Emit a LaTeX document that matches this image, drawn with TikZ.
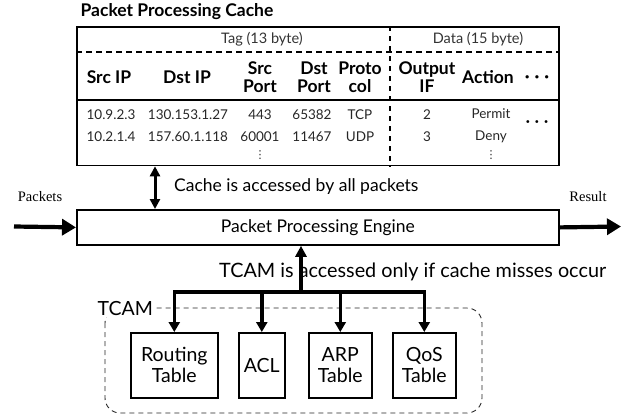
\documentclass[tikz,border=0pt]{standalone}
\usepackage{fontspec}
\setmainfont{Lato}
\newfontfamily\labelserif{Liberation Serif}
\newfontfamily\glyphfont{DejaVu Sans}
\usetikzlibrary{arrows.meta}

\begin{document}
\begin{tikzpicture}[x=1pt,y=-1pt,
  frame/.style={draw, line width=1.8pt, inner sep=0pt},
  unit/.style={draw, line width=1.6pt, inner sep=0pt, align=center,
    font=\fontsize{19.5}{21}\selectfont},
  headtxt/.style={inner sep=0pt, align=center,
    font=\fontsize{17.5}{18.5}\selectfont\bfseries},
  celltxt/.style={inner sep=0pt, anchor=base, text=black!85,
    font=\fontsize{13.5}{15}\selectfont},
  grptxt/.style={inner sep=0pt, anchor=base, text=black!80,
    font=\fontsize{14.5}{16}\selectfont},
  moretxt/.style={inner sep=0pt, text=black!85, font=\glyphfont\fontsize{11}{12}\selectfont},
  sidetxt/.style={inner sep=0pt, anchor=base,
    font=\labelserif\fontsize{14.5}{16}\selectfont},
  fatarrow/.style={line width=4.2pt, -{Triangle[length=14pt,width=16pt]}},
  duplex/.style={line width=3pt, {Triangle[length=10pt,width=10pt]}-{Triangle[length=10pt,width=10pt]}},
  busline/.style={line width=3.5pt, line cap=rect},
  dropline/.style={line width=3.5pt, -{Triangle[length=10pt,width=11pt]}},
  uplink/.style={line width=3.5pt, -{Triangle[length=11pt,width=11pt]}},
]
\useasboundingbox (0,0) rectangle (633,416);

% ---------- cache table ----------
\node[inner sep=0pt, anchor=base, font=\fontsize{17.5}{19}\selectfont\bfseries]
  (title) at (177,16) {Packet Processing Cache};

\node[frame, minimum width=482pt, minimum height=138.5pt, anchor=north west]
  (cache) at (76,26) {};

\coordinate (tagline) at (76,52);
\coordinate (headline) at (76,100);
\coordinate (split) at (390,26);
\draw[line width=1.5pt, dash pattern=on 6pt off 4pt]
  (tagline) -- (tagline -| cache.east);
\draw[line width=1.4pt] (headline) -- (headline -| cache.east);
\draw[line width=1.3pt, dash pattern=on 5pt off 5pt]
  (split) -- (split |- cache.south);

\node[grptxt] (tag) at (262,43) {Tag (13 byte)};
\node[grptxt] (data) at (478,43) {Data (15 byte)};

\node[headtxt] (hsrcip) at (109,77) {Src IP};
\node[headtxt] (hdstip) at (187,77) {Dst IP};
\node[headtxt] (hsrcp) at (260,77) {Src\\Port};
\node[headtxt] (hdstp) at (314,77) {Dst\\Port};
\node[headtxt] (hproto) at (360,77) {Proto\\col};
\node[headtxt] (hout) at (427,77) {Output\\IF};
\node[headtxt] (hact) at (488,77) {Action};
\node[headtxt] (hmore) at (537,79) {·\hspace{5pt}·\hspace{5pt}·};

\node[celltxt] (a1) at (111,119) {10.9.2.3};
\node[celltxt] (b1) at (188,119) {130.153.1.27};
\node[celltxt] (c1) at (260,119) {443};
\node[celltxt] (d1) at (312,119) {65382};
\node[celltxt] (e1) at (360,119) {TCP};
\node[celltxt] (f1) at (427,119) {2};
\node[celltxt] (g1) at (491,118) {Permit};

\node[celltxt] (a2) at (111,141) {10.2.1.4};
\node[celltxt] (b2) at (188,141) {157.60.1.118};
\node[celltxt] (c2) at (260,141) {60001};
\node[celltxt] (d2) at (312,141) {11467};
\node[celltxt] (e2) at (360,141) {UDP};
\node[celltxt] (f2) at (427,141) {3};
\node[celltxt] (g2) at (491,140) {Deny};

\node[moretxt] (cmore) at (260,155) {⋮};
\node[moretxt] (gmore) at (491,155) {⋮};
\node[inner sep=0pt, font=\fontsize{15}{16}\selectfont\bfseries]
  (rmore) at (537,124) {·\hspace{5pt}·\hspace{5pt}·};

% ---------- engine ----------
\node[frame, minimum width=482pt, minimum height=35pt, anchor=north west]
  (engine) at (76,209) {};
\node[inner sep=0pt, font=\fontsize{17.5}{19}\selectfont] (enginetxt)
  at (engine.center) {Packet Processing Engine};

\coordinate (pin) at (14,226.5);
\coordinate (pout) at (621,226.5);
\draw[fatarrow] (pin) -- (engine.west);
\draw[fatarrow] (engine.east) -- (pout);
\node[sidetxt] (packets) at (40,201.5) {Packets};
\node[sidetxt] (result) at (588,201.5) {Result};

\coordinate (cachelink) at (155,0);
\draw[duplex] (cache.south -| cachelink) -- (engine.north -| cachelink);
\node[inner sep=0pt, anchor=west, font=\fontsize{17.5}{19}\selectfont]
  (cachenote) at (174,187) {Cache is accessed by all packets};

% ---------- TCAM ----------
\draw[black!85, line width=0.9pt, dash pattern=on 5pt off 4pt, rounded corners=15pt]
  (105,308) rectangle (482,413);
\node[inner sep=1.5pt, fill=white, anchor=base west, font=\fontsize{19.5}{21}\selectfont]
  (tcam) at (96,315) {TCAM};

\node[unit, minimum width=87pt, minimum height=65pt, anchor=north west]
  (rt) at (130,332) {Routing\\Table};
\node[unit, minimum width=46pt, minimum height=65pt, anchor=north west]
  (acl) at (238,332) {ACL};
\node[unit, minimum width=63pt, minimum height=65pt, anchor=north west]
  (arp) at (308,332) {ARP\\Table};
\node[unit, minimum width=63pt, minimum height=65pt, anchor=north west]
  (qos) at (392,332) {QoS\\Table};

\coordinate (bus) at (301,292);
\draw[busline] (rt.north |- bus) -- (qos.north |- bus);
\draw[dropline] (rt.north |- bus) -- (rt.north);
\draw[dropline] (acl.north |- bus) -- (acl.north);
\draw[dropline] (arp.north |- bus) -- (arp.north);
\draw[dropline] (qos.north |- bus) -- (qos.north);
\draw[uplink] (bus) -- (engine.south -| bus);

\node[inner sep=0pt, anchor=base west, font=\fontsize{19.8}{21}\selectfont]
  (tcamnote) at (219,277) {TCAM is accessed only if cache misses occur};
\end{tikzpicture}
\end{document}
